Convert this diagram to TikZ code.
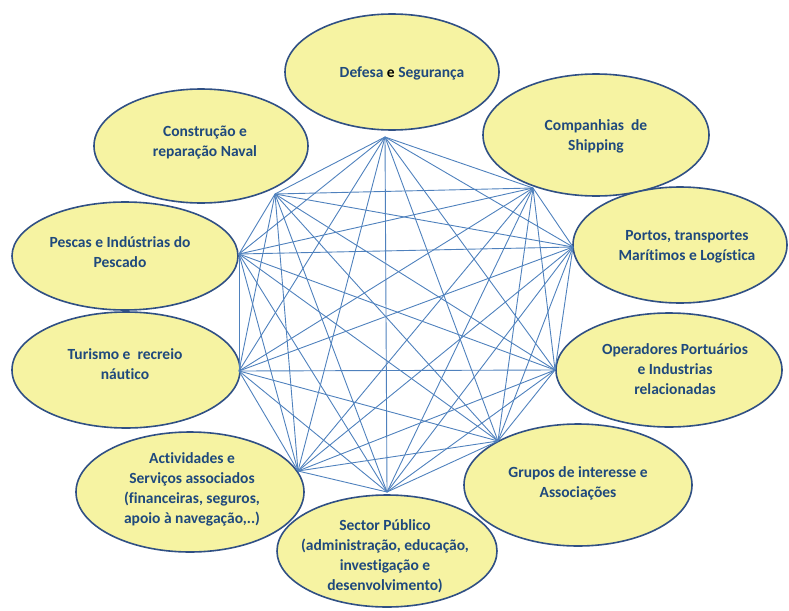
\documentclass[tikz,border=0pt]{standalone}
\usepackage{fontspec}
\setmainfont{Carlito}[RawFeature={-liga;-clig;-calt;-dlig}]
\usetikzlibrary{shapes.geometric}
\definecolor{efill}{RGB}{246,243,162}
\definecolor{edraw}{RGB}{48,80,132}
\definecolor{etext}{RGB}{31,73,125}
\definecolor{eline}{RGB}{79,129,189}
\tikzset{
  ellip/.style={ellipse, draw=edraw, line width=1.6pt, fill=efill, inner sep=0pt},
  lbl/.style={text=etext, font=\fontsize{15.5}{20}\selectfont\bfseries, align=center, inner sep=0pt},
  link/.style={draw=eline, line width=0.9pt}
}
\begin{document}
\begin{tikzpicture}[x=1pt,y=-1pt]
\useasboundingbox (0,0) rectangle (789,610);
% ellipses
\node[ellip, minimum width=214pt, minimum height=116pt] (defesa) at (392,72) {};
\node[ellip, minimum width=226pt, minimum height=122pt] (comp) at (596,135) {};
\node[ellip, minimum width=214pt, minimum height=116pt] (portos) at (680,245) {};
\node[ellip, minimum width=226pt, minimum height=114pt] (oper) at (669,370) {};
\node[ellip, minimum width=228pt, minimum height=122pt] (grupos) at (578,485) {};
\node[ellip, minimum width=220pt, minimum height=112pt] (sector) at (387,551) {};
\node[ellip, minimum width=228pt, minimum height=120pt] (activ) at (190,492) {};
\node[ellip, minimum width=228pt, minimum height=116pt] (turismo) at (126,370) {};
\node[ellip, minimum width=226pt, minimum height=108pt] (pescas) at (125,256) {};
\node[ellip, minimum width=214pt, minimum height=114pt] (constr) at (201,146) {};
% labels
\node[lbl] (tdefesa) at (402,73) {Defesa \textcolor{black}{e} Segurança};
\node[lbl] (tcomp) at (596,136) {Companhias\ \ de\\Shipping};
\node[lbl] (tportos) at (687,247) {Portos, transportes\\Marítimos e Logística};
\node[lbl] (toper) at (675,369) {Operadores Portuários\\e Industrias\\relacionadas};
\node[lbl] (tgrupos) at (578,483) {Grupos de interesse e\\Associações};
\node[lbl] (tsector) at (385,556) {Sector Público\\(administração, educação,\\investigação e\\desenvolvimento)};
\node[lbl] (tactiv) at (192,489) {Actividades e\\Serviços associados\\(financeiras, seguros,\\apoio à navegação,..)};
\node[lbl] (tturismo) at (125,364) {Turismo e\ \ recreio\\náutico};
\node[lbl] (tpescas) at (120,252) {Pescas e Indústrias do\\Pescado};
\node[lbl] (tconstr) at (205,143) {Construção e\\reparação Naval};
% vertices
\coordinate (v0) at (385,137);
\coordinate (v1) at (533,188);
\coordinate (v2) at (573,247);
\coordinate (v3) at (555,370);
\coordinate (v4) at (498,441);
\coordinate (v5) at (387,492);
\coordinate (v6) at (298,471);
\coordinate (v7) at (239,371);
\coordinate (v8) at (239,254);
\coordinate (v9) at (275,194);
\foreach \i in {0,...,8} {
  \pgfmathtruncatemacro{\s}{\i+1}
  \foreach \j in {\s,...,9} {
    \draw[link] (v\i) -- (v\j);
  }
}
\end{tikzpicture}
\end{document}
